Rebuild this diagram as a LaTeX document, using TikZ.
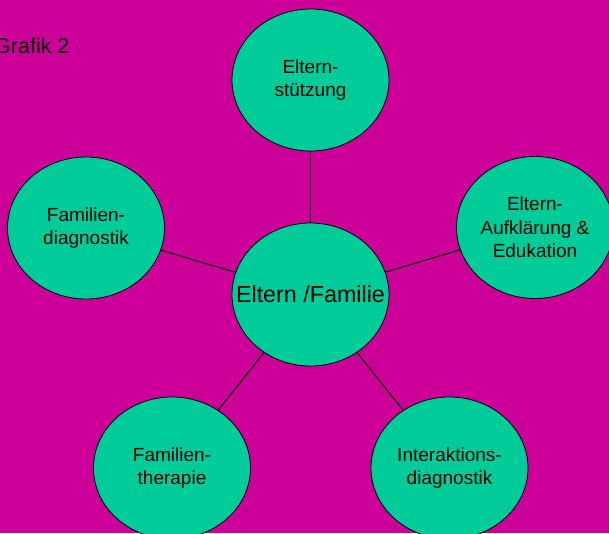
\documentclass[tikz,border=0pt]{standalone}
\usepackage{fontspec}
\setmainfont{Liberation Sans}
\usetikzlibrary{shapes.geometric}
\definecolor{bgmag}{RGB}{204,0,153}
\definecolor{circgreen}{RGB}{0,204,153}
\tikzset{
  bubble/.style={ellipse, draw=black, line width=0.8pt, fill=circgreen,
    minimum width=157pt, minimum height=142pt, inner sep=0pt,
    align=center, font=\fontsize{19}{23.5}\selectfont},
  hub/.style={bubble, minimum height=143pt, font=\fontsize{23.3}{28}\selectfont},
  link/.style={draw=black, line width=1.1pt},
  title/.style={anchor=base west, inner sep=0pt, font=\fontsize{21.5}{26}\selectfont}
}
\begin{document}
\begin{tikzpicture}[x=1pt,y=-1pt]
\useasboundingbox (0,0) rectangle (609,533);
\clip (0,0) rectangle (609,533);
\fill[bgmag] (0,0) rectangle (609,533);
\node[title] (t) at (-6,53) {Grafik 2};
\node[hub] (c) at (310.5,294.5) {\makebox[0pt][c]{Eltern /Familie}};
\node[bubble] (top) at (310.5,80) {Eltern-\\stützung};
\node[bubble] (fd) at (86,228) {Familien-\\diagnostik};
\node[bubble] (ae) at (535,227.5) {Eltern-\\Aufklärung \&\\ Edukation};
\node[bubble] (id) at (449.5,468) {Interaktions-\\diagnostik};
\node[bubble] (ft) at (172,468) {Familien-\\therapie};
\draw[link] (c) -- (top);
\draw[link] (c) -- (fd);
\draw[link] (c) -- (ae);
\draw[link] (c) -- (id);
\draw[link] (c) -- (ft);
\end{tikzpicture}
\end{document}
